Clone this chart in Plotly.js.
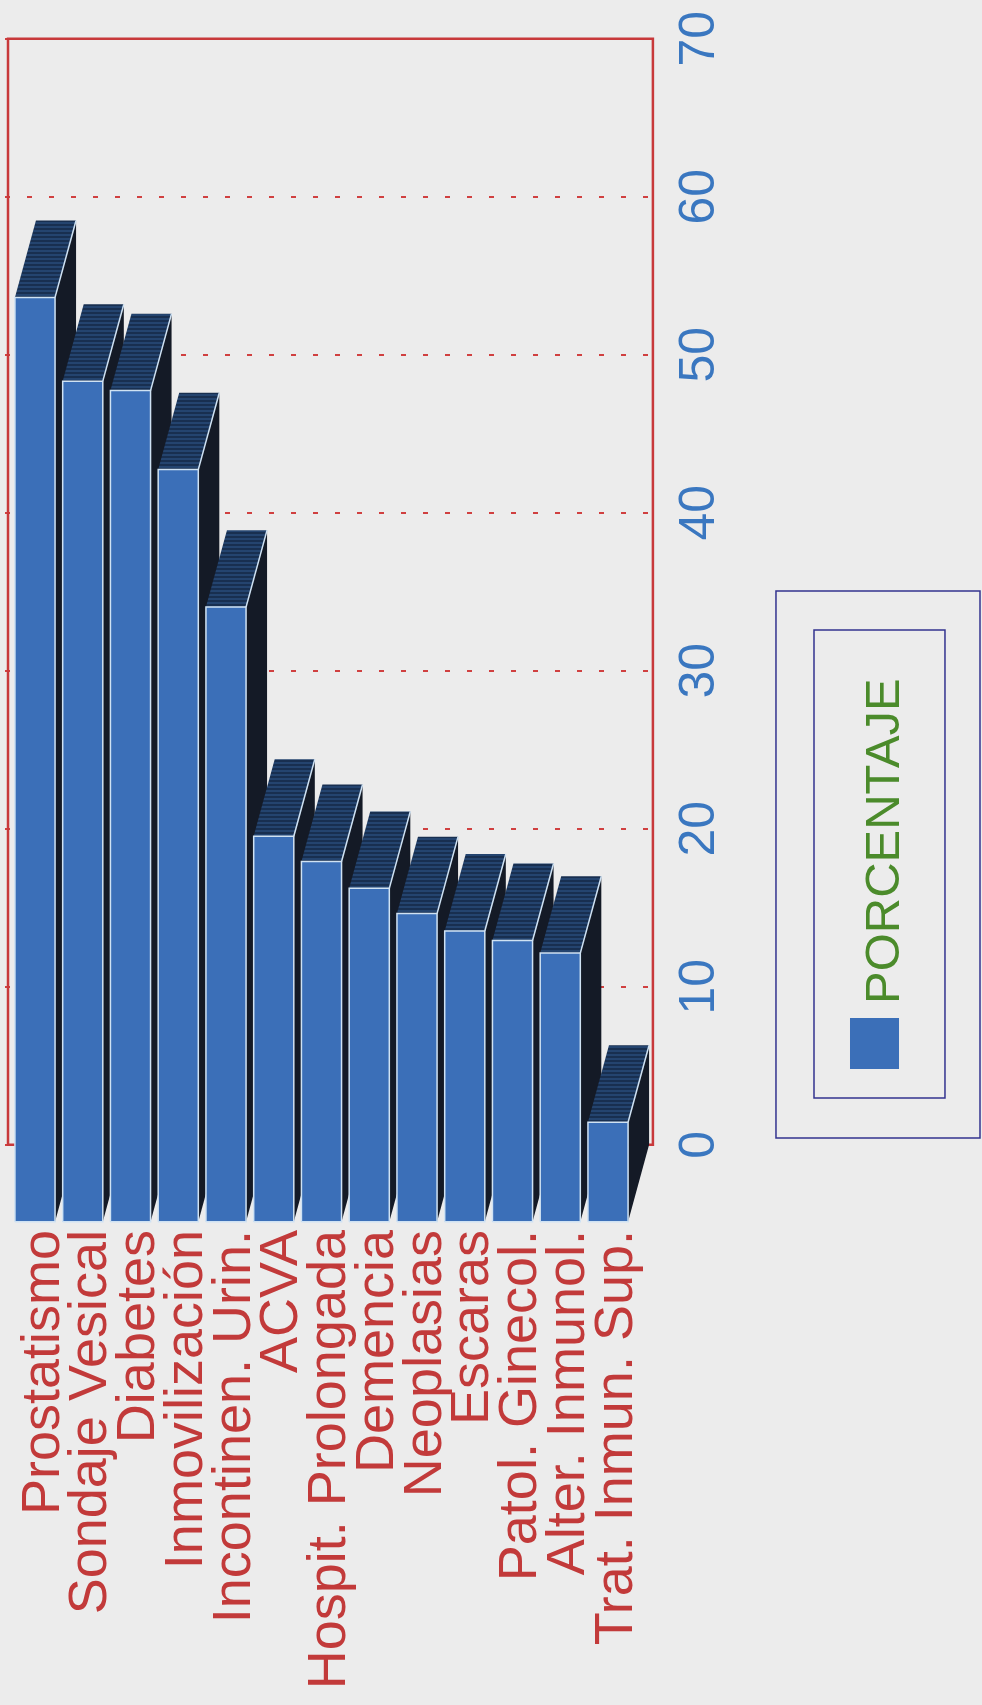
<!DOCTYPE html>
<html>
<head>
<meta charset="utf-8">
<script src="https://cdn.plot.ly/plotly-3.0.1.min.js"></script>
<style>
  html, body { margin:0; padding:0; background:#ececec; }
  #wrap { position:absolute; left:0; top:0; width:982px; height:1705px; overflow:hidden; background:#ececec; }
  #plot { position:absolute; left:0; top:0; width:1705px; height:982px;
          transform-origin:0 0; transform:translateY(1705px) rotate(-90deg); }
</style>
</head>
<body>
<div id="wrap"><div id="plot"></div></div>
<script>
// ---- data ----
const categories = ['Prostatismo', 'Sondaje Vesical', 'Diabetes', 'Inmovilización',
  'Incontinen. Urin.', 'ACVA', 'Hospit. Prolongada', 'Demencia', 'Neoplasias',
  'Escaras', 'Patol. Ginecol.', 'Alter. Inmunol.', 'Trat. Inmun. Sup.'];
const porcentaje = [58.5, 53.2, 52.6, 47.6, 38.9, 24.4, 22.8, 21.1, 19.5, 18.4, 17.8, 17.0, 6.3];
const valueTicks = [0, 10, 20, 30, 40, 50, 60, 70];
const seriesName = 'PORCENTAJE';

// ---- 3D look (styling) ----
const DV = 4.87;   // depth along value axis
const DC = 0.44;   // depth along category axis
const BW = 0.84;   // bar width
const FRONT = '#3b6fb8', TOP = '#21406a', SIDE = '#141a26', EDGE = '#cfe2f3';

const traces = [];
categories.forEach((cat, i) => {
  const v = porcentaje[i];
  const a = i - BW / 2, b = i + BW / 2;
  traces.push({ type:'scatter', mode:'lines', showlegend:false, hoverinfo:'skip',
    x:[-DV, v - DV, v, 0, -DV], y:[b, b, b + DC, b + DC, b],
    fill:'toself', fillcolor:SIDE, line:{width:0, color:SIDE} });
  traces.push({ type:'scatter', mode:'lines', showlegend:false, hoverinfo:'skip',
    x:[v - DV, v - DV, v, v, v - DV], y:[a, b, b + DC, a + DC, a],
    fill:'toself', fillcolor:TOP,
    fillpattern:{shape:'|', size:4, solidity:0.35, fgcolor:'#122542', bgcolor:'#24446f'},
    line:{width:0, color:TOP} });
  traces.push({ type:'scatter', mode:'lines', showlegend:false, name:cat,
    text:cat + ': ' + v, hoverinfo:'text',
    x:[-DV, v - DV, v - DV, -DV, -DV], y:[a, a, b, b, a],
    fill:'toself', fillcolor:FRONT, line:{width:1.5, color:EDGE} });
  traces.push({ type:'scatter', mode:'lines', showlegend:false, hoverinfo:'skip',
    x:[v - DV, v], y:[b, b + DC], line:{width:1.5, color:EDGE} });
});
traces.push({ type:'scatter', mode:'markers', name:seriesName, showlegend:true,
  x:[null], y:[null], marker:{symbol:'square', size:16, color:'rgba(0,0,0,0)'} });

const FONT = '"Liberation Sans", Arial, sans-serif';
const layout = {
  width:1705, height:982,
  margin:{l:482, r:34, t:5, b:326},
  paper_bgcolor:'#ececec', plot_bgcolor:'#ececec',
  showlegend:true,
  legend:{x:0.1505, xanchor:'left', y:-0.344, yanchor:'middle',
    bgcolor:'rgba(0,0,0,0)', borderwidth:0,
    font:{family:FONT, size:49, color:'#4b8b2b'}},
  xaxis:{range:[-4.95, 70.3], tickvals:valueTicks, ticktext:valueTicks.map(String),
    showgrid:true, gridcolor:'#d04040', gridwidth:2, griddash:'5px,17px',
    zeroline:false, showline:false, ticks:'', ticklabelstandoff:7, automargin:false,
    tickfont:{family:FONT, size:50, color:'#3a77c0'}},
  yaxis:{range:[13.005, -0.628], tickvals:categories.map((c, i) => i + 0.1), ticktext:categories,
    showgrid:false, zeroline:false, showline:false, ticks:'', ticklabelstandoff:6, automargin:false,
    tickfont:{family:FONT, size:54, color:'#c23a3a'}},
  shapes:[
    {type:'rect', xref:'x', yref:'y', x0:0, x1:70, y0:-0.565, y1:12.94,
     line:{color:'#c8393b', width:2.5}, layer:'between'},
    {type:'rect', xref:'paper', yref:'paper', x0:0.0715, x1:0.5315, y0:-0.1843, y1:-0.4977,
     line:{color:'#33338f', width:1.5}, layer:'above'},
    {type:'rect', xref:'paper', yref:'paper', x0:0.1051, x1:0.4987, y0:-0.2427, y1:-0.4439,
     line:{color:'#33338f', width:1.5}, layer:'above'},
    {type:'rect', xref:'paper', yref:'paper', x0:0.1295, x1:0.1724, y0:-0.298, y1:-0.3733,
     fillcolor:FRONT, line:{width:0}, layer:'above'}
  ]
};

Plotly.newPlot('plot', traces, layout, {displayModeBar:false, staticPlot:true});
</script>
</body>
</html>
